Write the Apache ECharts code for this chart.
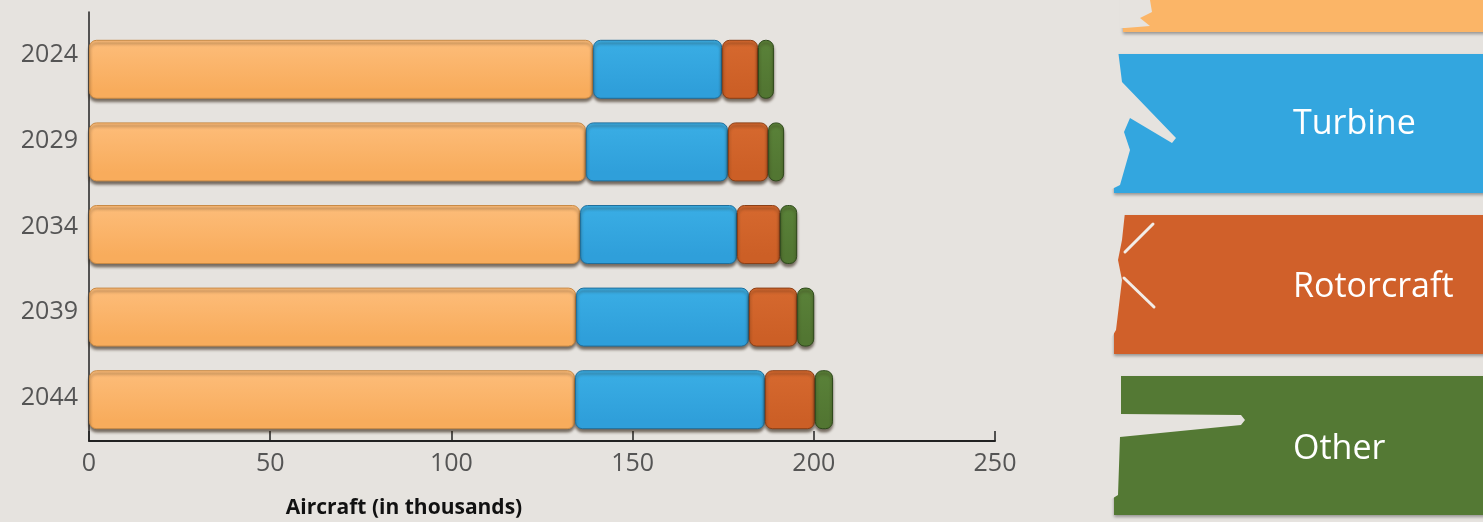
<!DOCTYPE html>
<html>
<head>
<meta charset="utf-8">
<script src="https://cdn.jsdelivr.net/npm/echarts@6/dist/echarts.min.js"></script>
<style>
html,body{margin:0;padding:0;background:#e6e3df;}
#chart{width:1483px;height:522px;}
</style>
</head>
<body>
<div id="chart"></div>
<script>
const years = ['2024', '2029', '2034', '2039', '2044'];
const piston = [139.1, 137.1, 135.5, 134.4, 134.1];
const turbine = [35.6, 39.2, 43.3, 47.7, 52.4];
const rotorcraft = [9.9, 11.1, 11.9, 13.3, 13.8];
const other = [4.4, 4.4, 4.7, 4.7, 5.0];
const xTicks = [0, 50, 100, 150, 200, 250];
const legendNames = ['Turbine', 'Rotorcraft', 'Other'];

const BG = '#e6e3df';
const FONT = '"Open Sans", "Liberation Sans", sans-serif';

function grad(top, bottom) {
  return new echarts.graphic.LinearGradient(0, 0, 0, 1, [
    {offset: 0, color: top}, {offset: 0.85, color: bottom}, {offset: 1, color: bottom}
  ]);
}
function seg(name, data, top, bottom, border) {
  return {
    name: name, type: 'bar', stack: 'total', data: data, barWidth: 59,
    xAxisIndex: 1, yAxisIndex: 1,
    itemStyle: {
      color: grad(top, bottom), borderRadius: 7, borderColor: border, borderWidth: 1,
      shadowColor: 'rgba(40,25,10,0.6)', shadowBlur: 3, shadowOffsetY: 3, shadowOffsetX: 0
    }
  };
}

const xBase = {
  type: 'value', min: xTicks[0], max: xTicks[xTicks.length - 1], interval: 50,
  splitLine: {show: false}
};

const chart = echarts.init(document.getElementById('chart'), null, {renderer: 'canvas'});
chart.setOption({
  backgroundColor: BG,
  animation: false,
  grid: [
    {left: 89, right: 488, top: 12, bottom: 81},
    {left: 89, right: 488, top: 28, bottom: 81}
  ],
  xAxis: [
    Object.assign({}, xBase, {
      gridIndex: 0,
      axisLine: {show: true, lineStyle: {color: '#222', width: 2}},
      axisTick: {show: true, inside: true, length: 10, lineStyle: {color: '#222', width: 1.5}},
      axisLabel: {color: '#555', fontSize: 25, fontFamily: FONT, margin: 10}
    }),
    Object.assign({}, xBase, {
      gridIndex: 1, show: false
    })
  ],
  yAxis: [
    {
      type: 'category', data: years, inverse: true, gridIndex: 0,
      axisLine: {show: true, lineStyle: {color: '#222', width: 1.5}},
      axisTick: {show: false},
      axisLabel: {color: '#555', fontSize: 25, fontFamily: FONT, margin: 11}
    },
    {
      type: 'category', data: years, inverse: true, gridIndex: 1, show: false
    }
  ],
  series: [
    seg('Piston', piston, '#fdbd7a', '#f8ac5c', '#c98a45'),
    seg('Turbine', turbine, '#3aaee5', '#2f9fda', '#1f6f9c'),
    seg('Rotorcraft', rotorcraft, '#d6692f', '#cc5f26', '#8c3f15'),
    seg('Other', other, '#5a8239', '#527632', '#2f4a1c')
  ],
  graphic: [
    {type: 'text', style: {x: 404, y: 508, text: 'Aircraft (in thousands)', fill: '#111',
      font: 'bold 21px ' + FONT, textAlign: 'center', textVerticalAlign: 'middle'}},
    // legend panels
    {type: 'rect', shape: {x: 1123, y: -20, width: 380, height: 52},
      style: {fill: '#fbb567', shadowColor: 'rgba(0,0,0,0.35)', shadowBlur: 3, shadowOffsetY: 2}},
    {type: 'polygon', shape: {points: [[1120,0],[1150,0],[1152,12],[1140,18],[1150,26],[1125,28],[1120,28]]}, style: {fill: BG}},
    {type: 'rect', shape: {x: 1114, y: 54, width: 380, height: 139},
      style: {fill: '#33a6df', shadowColor: 'rgba(0,0,0,0.35)', shadowBlur: 3, shadowOffsetY: 2}},
    {type: 'polygon', shape: {points: [[1110,50],[1118,50],[1122,82],[1176,138],[1172,143],[1130,118],[1124,132],[1130,150],[1120,185],[1110,190]]}, style: {fill: BG}},
    {type: 'text', style: {x: 1293, y: 124, text: legendNames[0], fill: '#fff', font: '34px ' + FONT, textVerticalAlign: 'middle'}},
    {type: 'rect', shape: {x: 1114, y: 215, width: 380, height: 139},
      style: {fill: '#d0602a', shadowColor: 'rgba(0,0,0,0.35)', shadowBlur: 3, shadowOffsetY: 2}},
    {type: 'polygon', shape: {points: [[1110,212],[1125,212],[1122,240],[1118,260],[1122,280],[1116,330],[1110,340]]}, style: {fill: BG}},
    {type: 'line', shape: {x1: 1153, y1: 224, x2: 1125, y2: 252}, style: {stroke: '#f2ede8', lineWidth: 3, lineCap: 'round'}},
    {type: 'line', shape: {x1: 1124, y1: 278, x2: 1154, y2: 307}, style: {stroke: '#f2ede8', lineWidth: 3, lineCap: 'round'}},
    {type: 'text', style: {x: 1293, y: 287, text: legendNames[1], fill: '#fff', font: '34px ' + FONT, textVerticalAlign: 'middle'}},
    {type: 'rect', shape: {x: 1114, y: 376, width: 380, height: 139},
      style: {fill: '#547934', shadowColor: 'rgba(0,0,0,0.35)', shadowBlur: 3, shadowOffsetY: 2}},
    {type: 'polygon', shape: {points: [[1110,372],[1121,372],[1121,414],[1241,415],[1245,420],[1241,425],[1120,437],[1118,495],[1110,500]]}, style: {fill: BG}},
    {type: 'text', style: {x: 1293, y: 449, text: legendNames[2], fill: '#fff', font: '34px ' + FONT, textVerticalAlign: 'middle'}}
  ]
});
</script>
</body>
</html>
